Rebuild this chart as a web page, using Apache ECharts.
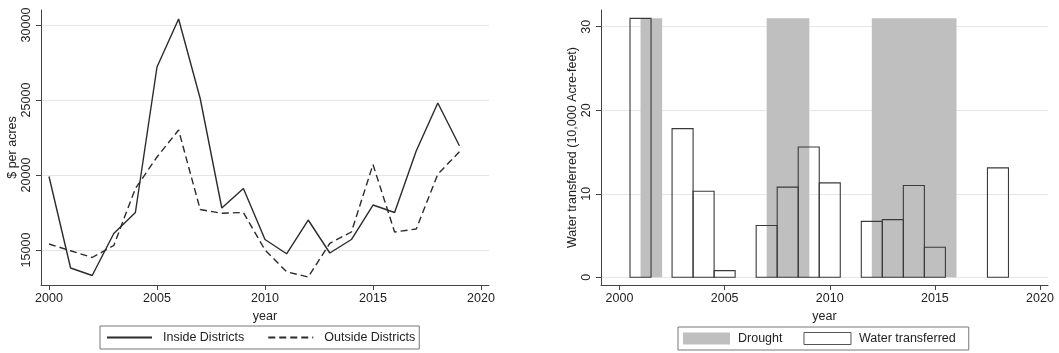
<!DOCTYPE html>
<html><head><meta charset="utf-8">
<script src="https://cdn.jsdelivr.net/npm/echarts@6/dist/echarts.min.js"></script>
<style>html,body{margin:0;padding:0;background:#fff}#c{width:1059px;height:353px}</style>
</head><body><div id="c"></div>
<script>
const years = [2000,2001,2002,2003,2004,2005,2006,2007,2008,2009,2010,2011,2012,2013,2014,2015,2016,2017,2018,2019];
const insideDistricts  = [19900,13800,13300,16100,17500,27200,30400,25100,17800,19100,15700,14750,17000,14800,15700,18000,17500,21600,24800,21950];
const outsideDistricts = [15400,14950,14500,15300,19100,21200,23000,17700,17450,17500,15000,13550,13200,15450,16200,20700,16200,16400,20050,21550];
const priceTicks = [15000,20000,25000,30000];
const yearTicks = [2000,2005,2010,2015,2020];

const waterYears = [2001,2003,2004,2005,2007,2008,2009,2010,2012,2013,2014,2015,2018];
const waterTransferred = [31,17.8,10.3,0.8,6.2,10.8,15.6,11.3,6.7,6.9,11.0,3.6,13.1];
const droughtYears = [2001,2007,2008,2012,2013,2014,2015];
const droughtHeight = 31;
const waterTicks = [0,10,20,30];

const FONT = 'Liberation Sans, Arial, Helvetica, sans-serif';
const TXT = '#222';
const AX = '#444';
const LINE = '#2b2b2b';
const fmt = v => String(v);

function axisCommon(ticks){
  return {
    axisLine:{show:true,onZero:false,lineStyle:{color:AX,width:1}},
    axisTick:{show:true,length:5,customValues:ticks,lineStyle:{color:AX,width:1}},
    nameTextStyle:{fontFamily:FONT,fontSize:12.5,color:TXT},
  };
}
const hiddenSymbol = {color:'rgba(0,0,0,0)', borderColor:'rgba(0,0,0,0)', borderWidth:0};

const chart = echarts.init(document.getElementById('c'), null, {renderer:'canvas'});
chart.setOption({
  backgroundColor:'#fff',
  animation:false,
  textStyle:{fontFamily:FONT},
  grid:[
    {left:41, right:570, top:10, bottom:68},
    {left:601, right:11, top:10, bottom:68}
  ],
  xAxis:[
    Object.assign(axisCommon(yearTicks), {
      type:'value', gridIndex:0, min:1999.63, max:2020.37,
      name:'year', nameLocation:'middle', nameGap:20,
      axisLabel:{customValues:yearTicks, formatter:fmt, fontSize:12.5, color:TXT, margin:7, fontFamily:FONT},
      splitLine:{show:false}
    }),
    Object.assign(axisCommon(yearTicks), {
      type:'value', gridIndex:1, min:1999.12, max:2020.38,
      name:'year', nameLocation:'middle', nameGap:20,
      axisLabel:{customValues:yearTicks, formatter:fmt, fontSize:12.5, color:TXT, margin:7, fontFamily:FONT},
      splitLine:{show:false}
    })
  ],
  yAxis:[
    Object.assign(axisCommon(priceTicks), {
      type:'value', gridIndex:0, min:12667, max:31000,
      name:'$ per acres', nameLocation:'middle', nameGap:21,
      axisLabel:{customValues:priceTicks, formatter:fmt, rotate:90, fontSize:12.5, color:TXT, margin:8, fontFamily:FONT},
      splitLine:{show:true, lineStyle:{color:'#e6e6e6', width:1.2}}
    }),
    Object.assign(axisCommon(waterTicks), {
      type:'value', gridIndex:1, min:-0.92, max:32,
      name:'Water transferred (10,000 Acre-feet)', nameLocation:'middle', nameGap:21,
      axisLabel:{customValues:waterTicks, formatter:fmt, rotate:90, fontSize:12.5, color:TXT, margin:8, fontFamily:FONT},
      splitLine:{show:true, lineStyle:{color:'#e6e6e6', width:1.2}}
    })
  ],
  legend:[
    {
      left:100, top:326, orient:'horizontal', itemWidth:45, itemHeight:12, itemGap:23,
      padding:[5,4,5,6], borderColor:'#777', borderWidth:1, borderRadius:0,
      selectedMode:false,
      textStyle:{fontFamily:FONT, fontSize:12.5, color:TXT, padding:[0,0,0,6]},
      data:[
        {name:'Inside Districts', itemStyle:hiddenSymbol},
        {name:'Outside Districts', itemStyle:hiddenSymbol}
      ]
    },
    {
      left:678, top:327, orient:'horizontal', itemWidth:47, itemHeight:12, itemGap:21,
      padding:[5,13,5,5], borderColor:'#777', borderWidth:1, borderRadius:0,
      selectedMode:false,
      textStyle:{fontFamily:FONT, fontSize:12.5, color:TXT, padding:[0,0,0,3]},
      data:[
        {name:'Drought', icon:'rect', itemStyle:{color:'#bfbfbf', borderWidth:0}},
        {name:'Water transferred', icon:'rect', itemStyle:{color:'#fff', borderColor:'#555', borderWidth:1}}
      ]
    }
  ],
  series:[
    {
      name:'Inside Districts', type:'line', xAxisIndex:0, yAxisIndex:0,
      symbol:'none', data: years.map((y,i)=>[y, insideDistricts[i]]),
      lineStyle:{color:LINE, width:1.4}, itemStyle:{color:LINE}
    },
    {
      name:'Outside Districts', type:'line', xAxisIndex:0, yAxisIndex:0,
      symbol:'none', data: years.map((y,i)=>[y, outsideDistricts[i]]),
      lineStyle:{color:LINE, width:1.4, type:[7,4]}, itemStyle:{color:LINE}
    },
    {
      name:'Drought', type:'custom', xAxisIndex:1, yAxisIndex:1, z:1,
      data: droughtYears.map(y=>[y, droughtHeight]),
      itemStyle:{color:'#bfbfbf'},
      renderItem:function(params, api){
        const x = api.value(0), h = api.value(1);
        const p0 = api.coord([x, 0]);
        const p1 = api.coord([x+1, h]);
        return {type:'rect', shape:{x:p0[0], y:p1[1], width:p1[0]-p0[0]+0.6, height:p0[1]-p1[1]},
                style:{fill:'#bfbfbf'}};
      }
    },
    {
      name:'Water transferred', type:'custom', xAxisIndex:1, yAxisIndex:1, z:3,
      data: waterYears.map((y,i)=>[y, waterTransferred[i]]),
      itemStyle:{color:'#fff'},
      renderItem:function(params, api){
        const x = api.value(0), v = api.value(1);
        const p0 = api.coord([x-0.5, 0]);
        const p1 = api.coord([x+0.5, v]);
        return {type:'rect', shape:{x:p0[0], y:p1[1], width:p1[0]-p0[0], height:p0[1]-p1[1]},
                style:{fill:null, stroke:'#3a3a3a', lineWidth:1.1}};
      }
    }
  ]
});
</script></body></html>
